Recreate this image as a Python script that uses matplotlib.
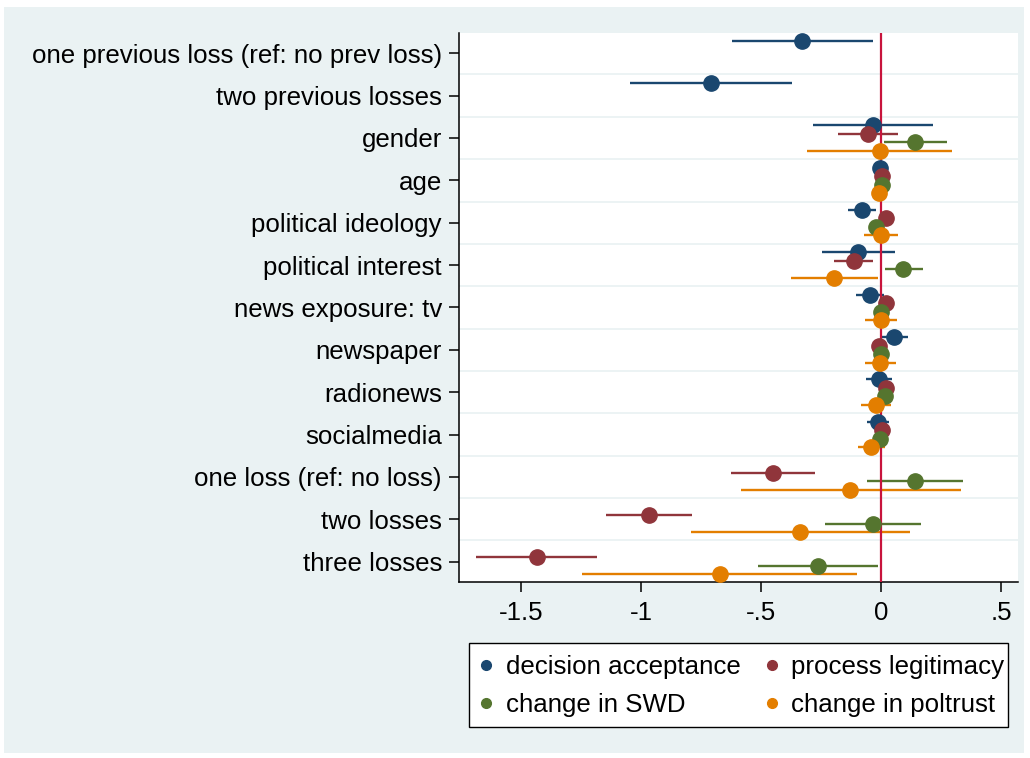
import numpy as np
import matplotlib
matplotlib.use("Agg")
import matplotlib.pyplot as plt
from matplotlib.lines import Line2D
from matplotlib.patches import Rectangle

plt.rcParams['font.family'] = ['Liberation Sans', 'DejaVu Sans']

labels = ["one previous loss (ref: no prev loss)", "two previous losses", "gender", "age",
          "political ideology", "political interest", "news exposure: tv", "newspaper",
          "radionews", "socialmedia", "one loss (ref: no loss)", "two losses", "three losses"]

nan = np.nan
# decision acceptance
da_coef = [-0.330, -0.710, -0.036, -0.006, -0.080, -0.098, -0.049, 0.054, -0.012, -0.016, nan, nan, nan]
da_lo   = [-0.621, -1.049, -0.286, -0.016, -0.138, -0.249, -0.104, 0.000, -0.063, -0.060, nan, nan, nan]
da_hi   = [-0.037, -0.371, 0.216, 0.004, -0.021, 0.055, 0.009, 0.109, 0.045, 0.030, nan, nan, nan]
# process legitimacy
pl_coef = [nan, nan, -0.055, 0.004, 0.019, -0.116, 0.021, -0.009, 0.021, 0.004, -0.452, -0.970, -1.437]
pl_lo   = [nan, nan, -0.182, -0.006, -0.005, -0.198, -0.003, -0.030, -0.005, -0.015, -0.625, -1.146, -1.689]
pl_hi   = [nan, nan, 0.070, 0.014, 0.043, -0.033, 0.045, 0.012, 0.047, 0.023, -0.278, -0.789, -1.184]
# change in SWD
swd_coef = [nan, nan, 0.140, 0.001, -0.021, 0.092, 0.000, -0.001, 0.016, -0.004, 0.138, -0.036, -0.263]
swd_lo   = [nan, nan, 0.010, -0.008, -0.045, 0.015, -0.020, -0.020, -0.005, -0.025, -0.060, -0.235, -0.513]
swd_hi   = [nan, nan, 0.272, 0.010, 0.003, 0.173, 0.020, 0.018, 0.037, 0.017, 0.339, 0.164, -0.015]
# change in poltrust
pt_coef = [nan, nan, -0.007, -0.010, 0.000, -0.196, 0.000, -0.004, -0.024, -0.042, -0.129, -0.339, -0.674]
pt_lo   = [nan, nan, -0.308, -0.020, -0.071, -0.375, -0.067, -0.068, -0.085, -0.097, -0.585, -0.795, -1.246]
pt_hi   = [nan, nan, 0.295, 0.000, 0.071, -0.015, 0.065, 0.061, 0.040, 0.015, 0.330, 0.119, -0.101]

series_names = ["decision acceptance", "process legitimacy", "change in SWD", "change in poltrust"]
series_colors = ["#1a476f", "#90353b", "#55752f", "#e37e00"]

xticks = [-1.5, -1.0, -0.5, 0.0, 0.5]
xticklabels = ["-1.5", "-1", "-.5", "0", ".5"]

W, H = 1030, 758
fig = plt.figure(figsize=(W / 100, H / 100), dpi=100, facecolor="white")
fig.patches.append(Rectangle((4 / W, 5 / H), 1020 / W, 746 / H, transform=fig.transFigure,
                             facecolor="#eaf2f3", edgecolor="none", zorder=-10))

ax = fig.add_axes([459.3 / W, (H - 582) / H, (1017.7 - 459.3) / W, (582 - 33.3) / H])
ax.set_facecolor("white")
ax.set_xlim(-1.759, 0.568)
ax.set_ylim(12.48, -0.47)

n = len(labels)
rows = np.arange(n)
for g in np.arange(n - 1) + 0.5:
    ax.axhline(g, color="#eaf2f3", lw=1.3, zorder=1)

ax.axvline(0, color="#c8143c", lw=1.6, zorder=4)

data = [(da_coef, da_lo, da_hi), (pl_coef, pl_lo, pl_hi),
        (swd_coef, swd_lo, swd_hi), (pt_coef, pt_lo, pt_hi)]
offsets = [-0.3, -0.1, 0.1, 0.3]
for (c, lo, hi), col, off in zip(data, series_colors, offsets):
    c = np.array(c); lo = np.array(lo); hi = np.array(hi)
    y = rows + off
    ok = ~np.isnan(c)
    ax.hlines(y[ok], lo[ok], hi[ok], color=col, lw=1.7, zorder=3)
    ax.plot(c[ok], y[ok], 'o', color=col, ms=11, mec=col, zorder=5)

ax.set_yticks(rows)
ax.set_yticklabels(labels, fontsize=18.6)
ax.set_xticks(xticks)
ax.set_xticklabels(xticklabels, fontsize=18.6)
ax.tick_params(axis='y', length=7.5, width=1.1, pad=5, colors='black')
ax.tick_params(axis='x', length=7.5, width=1.1, pad=6, colors='black')
for s in ['top', 'right']:
    ax.spines[s].set_visible(False)
for s in ['left', 'bottom']:
    ax.spines[s].set_linewidth(1.1)
    ax.spines[s].set_color('black')

# legend box
fig.patches.append(Rectangle((469 / W, (H - 727) / H), (1008 - 469) / W, (727 - 643) / H,
                             transform=fig.transFigure, facecolor="white", edgecolor="black",
                             lw=1.0, zorder=2))
handles = [Line2D([], [], marker='o', ls='none', color=c, ms=7) for c in series_colors]
order = [0, 2, 1, 3]  # fill legend row by row
leg = fig.legend([handles[i] for i in order], [series_names[i] for i in order], ncol=2, fontsize=18.6,
                 bbox_to_anchor=(469 / W, (H - 643) / H), loc='upper left',
                 borderaxespad=0, borderpad=0.47, columnspacing=1.0,
                 handlelength=0.4, handletextpad=0.56, labelspacing=0.52,
                 frameon=False)
leg.set_zorder(3)

fig.savefig("out.png", dpi=100, facecolor="white")
